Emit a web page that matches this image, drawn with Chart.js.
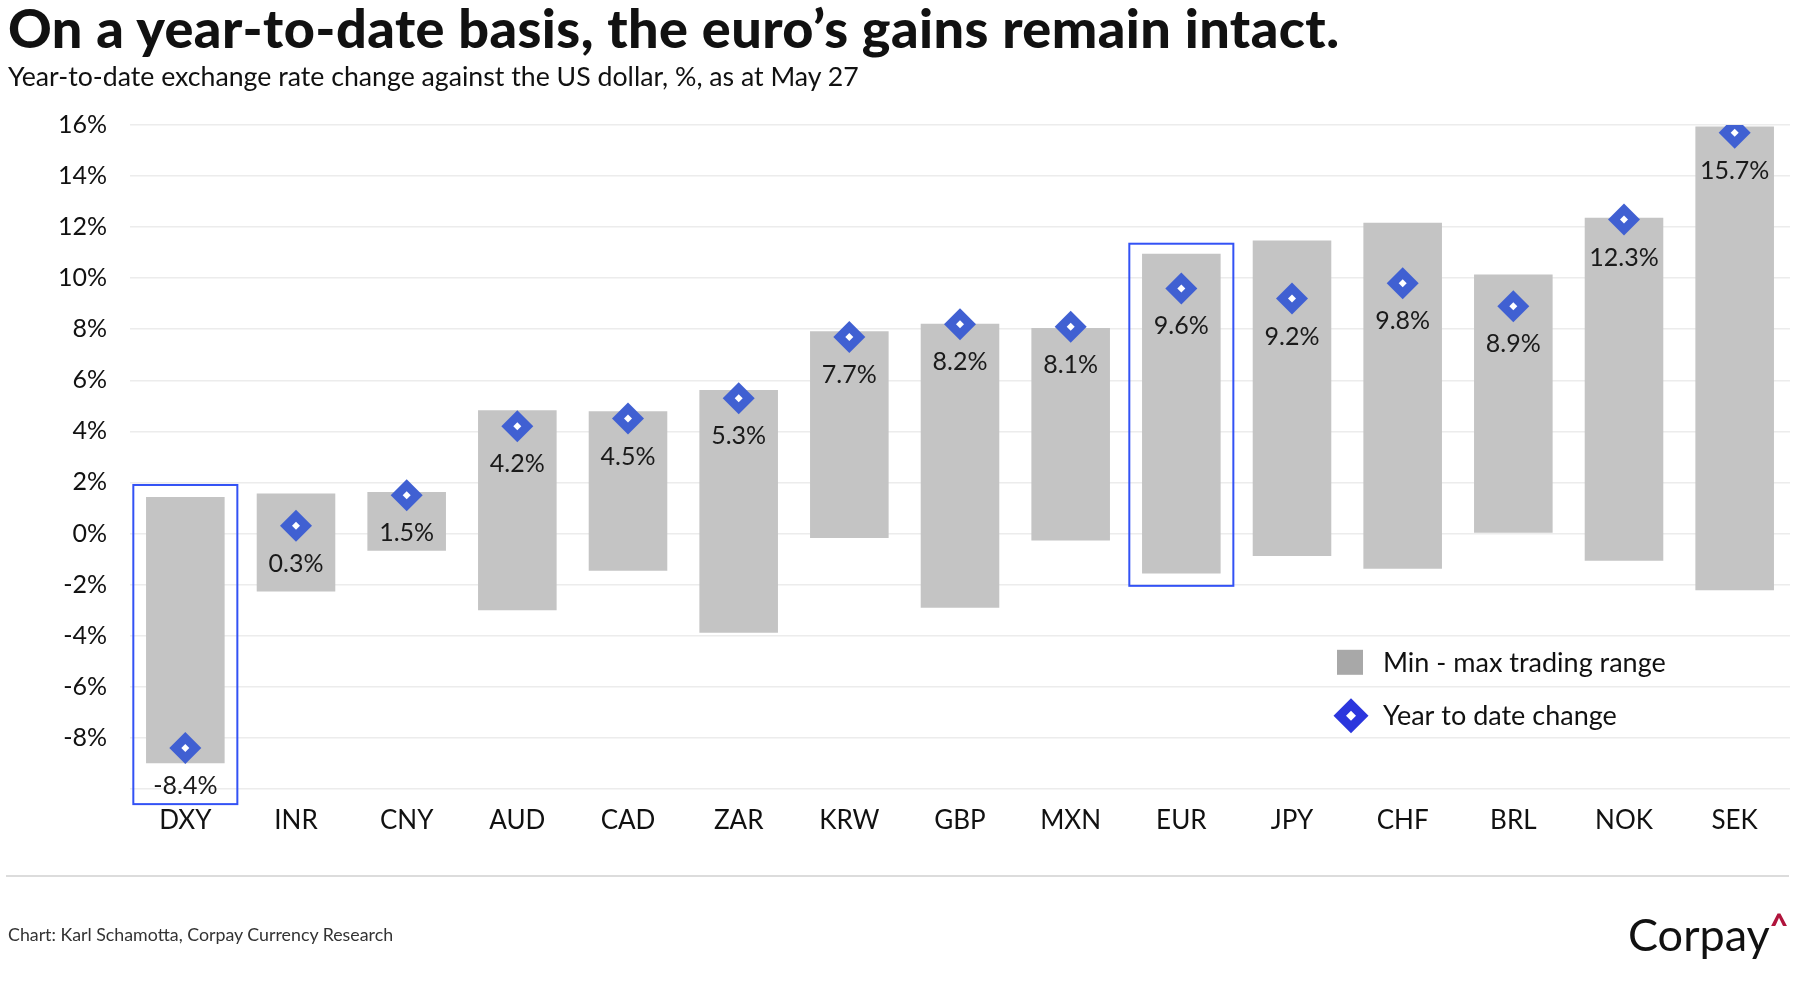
<!DOCTYPE html>
<html>
<head>
<meta charset="utf-8">
<script src="https://cdn.jsdelivr.net/npm/chart.js@4.4.1/dist/chart.umd.min.js"></script>
<style>
  html, body { margin: 0; overflow: hidden; }
  body { background: #fff; font-family: Lato, "Noto Sans", sans-serif; color: #111; }
  #page { position: relative; width: 1796px; height: 1000px; overflow: hidden; }
  #chartBox { position: absolute; left: 0; top: 0; width: 1796px; height: 1000px; }
  .txt { position: absolute; white-space: nowrap; line-height: 1; }
  #title { left: 8px; top: 1px; font-size: 54px; font-weight: 900; letter-spacing: 0.45px; }
  #subtitle { left: 8px; top: 63px; font-size: 26.7px; }
  #source { left: 8px; top: 926px; font-size: 17.8px; color: #333; }
  #logo { left: 1628px; top: 909px; font-size: 45px; color: #111; }
  #logo span { color: #b0143c; font-size: 32px; vertical-align: 14px; font-weight: 900; }
  #rule { position: absolute; left: 6px; top: 875px; width: 1783px; height: 2px; background: #dcdcdc; }
</style>
</head>
<body>
<div id="page">
  <div id="chartBox"><canvas id="myChart"></canvas></div>
  <div class="txt" id="title">On a year-to-date basis, the euro’s gains remain intact.</div>
  <div class="txt" id="subtitle">Year-to-date exchange rate change against the US dollar, %, as at May 27</div>
  <div id="rule"></div>
  <div class="txt" id="source">Chart: Karl Schamotta, Corpay Currency Research</div>
  <div class="txt" id="logo">Corpay<span>^</span></div>
</div>
<script>
var currencies = ["DXY", "INR", "CNY", "AUD", "CAD", "ZAR", "KRW", "GBP", "MXN", "EUR", "JPY", "CHF", "BRL", "NOK", "SEK"];
var rangeMin = [-9.0, -2.27, -0.68, -3.01, -1.46, -3.89, -0.18, -2.91, -0.27, -1.57, -0.88, -1.38, 0.0, -1.07, -2.22];
var rangeMax = [1.43, 1.57, 1.63, 4.83, 4.79, 5.62, 7.92, 8.22, 8.05, 10.96, 11.48, 12.17, 10.14, 12.37, 15.94];
var ytdChange = [-8.4, 0.3, 1.5, 4.2, 4.5, 5.3, 7.7, 8.2, 8.1, 9.6, 9.2, 9.8, 8.9, 12.3, 15.7];
var yTicks = [-10, -8, -6, -4, -2, 0, 2, 4, 6, 8, 10, 12, 14, 16];

// highlighted columns (blue outline)
var highlights = [
  { cat: "DXY", top: 1.9, bottom: -10.6 },
  { cat: "EUR", top: 11.35, bottom: -2.05 }
];

var rangeData = currencies.map(function (c, i) { return [rangeMin[i], rangeMax[i]]; });

var boxPlugin = {
  id: 'boxes',
  afterDatasetsDraw: function (chart) {
    var ctx = chart.ctx, x = chart.scales.x, y = chart.scales.y;
    var half = (x.getPixelForValue(1) - x.getPixelForValue(0)) * 0.47;
    ctx.save();
    ctx.strokeStyle = '#3352f5';
    ctx.lineWidth = 2;
    highlights.forEach(function (h) {
      var cx = x.getPixelForValue(currencies.indexOf(h.cat));
      var t = y.getPixelForValue(h.top), b = y.getPixelForValue(h.bottom);
      ctx.strokeRect(cx - half, t, half * 2, b - t);
    });
    ctx.restore();
  }
};

var labelPlugin = {
  id: 'valueLabels',
  afterDatasetsDraw: function (chart) {
    var ctx = chart.ctx;
    var meta = chart.getDatasetMeta(1);
    ctx.save();
    ctx.font = '25px Lato';
    ctx.fillStyle = '#1a1a1a';
    ctx.textAlign = 'center';
    ctx.textBaseline = 'middle';
    meta.data.forEach(function (pt, i) {
      ctx.fillText(ytdChange[i].toFixed(1) + '%', pt.x, pt.y + 38);
    });
    ctx.restore();
  }
};

var legendPlugin = {
  id: 'insideLegend',
  afterDraw: function (chart) {
    var ctx = chart.ctx, a = chart.chartArea;
    var lx = a.right - 453, ly = a.bottom - 139;
    ctx.save();
    ctx.fillStyle = '#a8a8a8';
    ctx.fillRect(lx, ly, 26, 25);
    // diamond
    var dx = lx + 14, dy = ly + 66;
    ctx.fillStyle = '#2b36dd';
    ctx.beginPath();
    ctx.moveTo(dx - 17.5, dy); ctx.lineTo(dx, dy - 17.5); ctx.lineTo(dx + 17.5, dy); ctx.lineTo(dx, dy + 17.5);
    ctx.closePath(); ctx.fill();
    ctx.fillStyle = '#fff';
    ctx.beginPath();
    ctx.moveTo(dx - 5, dy); ctx.lineTo(dx, dy - 5); ctx.lineTo(dx + 5, dy); ctx.lineTo(dx, dy + 5);
    ctx.closePath(); ctx.fill();
    ctx.fillStyle = '#111';
    ctx.font = '27px Lato';
    ctx.textBaseline = 'middle';
    ctx.fillText('Min - max trading range', lx + 46, ly + 13);
    ctx.fillText('Year to date change', lx + 46, dy);
    ctx.restore();
  }
};

var ctx = document.getElementById("myChart");
var myChart = new Chart(ctx, {
  data: {
    labels: currencies,
    datasets: [{
      type: 'bar',
      label: 'Min - max trading range',
      data: rangeData,
      backgroundColor: '#c4c4c4',
      barPercentage: 0.71,
      categoryPercentage: 1,
      order: 3
    },
    {
      type: 'line',
      label: 'Year to date change',
      data: ytdChange,
      showLine: false,
      pointStyle: 'rectRot',
      pointRadius: 16,
      pointHoverRadius: 16,
      pointBackgroundColor: '#4060d2',
      pointBorderWidth: 0,
      order: 2
    },
    {
      type: 'line',
      label: 'dot',
      data: ytdChange,
      showLine: false,
      pointStyle: 'rectRot',
      pointRadius: 4,
      pointHoverRadius: 4,
      pointBackgroundColor: '#ffffff',
      pointBorderWidth: 0,
      order: 1
    }]
  },
  options: {
    responsive: true,
    maintainAspectRatio: false,
    animation: false,
    layout: { autoPadding: false, padding: { left: 0, right: 6, top: 125, bottom: 148 } },
    plugins: {
      legend: { display: false },
      tooltip: { enabled: false }
    },
    scales: {
      x: {
        afterFit: function (scale) { scale.paddingLeft = 0; scale.paddingRight = 0; },
        grid: { display: false, drawTicks: false },
        border: { display: false },
        ticks: { color: '#111', font: { family: 'Lato', size: 26 }, padding: 16 }
      },
      y: {
        min: -10,
        max: 16,
        afterFit: function (scale) { scale.width = 130; },
        afterBuildTicks: function (scale) { scale.ticks = yTicks.map(function (v) { return { value: v }; }); },
        grid: { color: '#ececec', lineWidth: 1.5, drawTicks: false },
        border: { display: false },
        ticks: {
          color: '#111',
          font: { family: 'Lato', size: 25 },
          padding: 23,
          callback: function (v) { return v === -10 ? '' : v + '%'; }
        }
      }
    }
  },
  plugins: [boxPlugin, labelPlugin, legendPlugin]
});
</script>
</body>
</html>
